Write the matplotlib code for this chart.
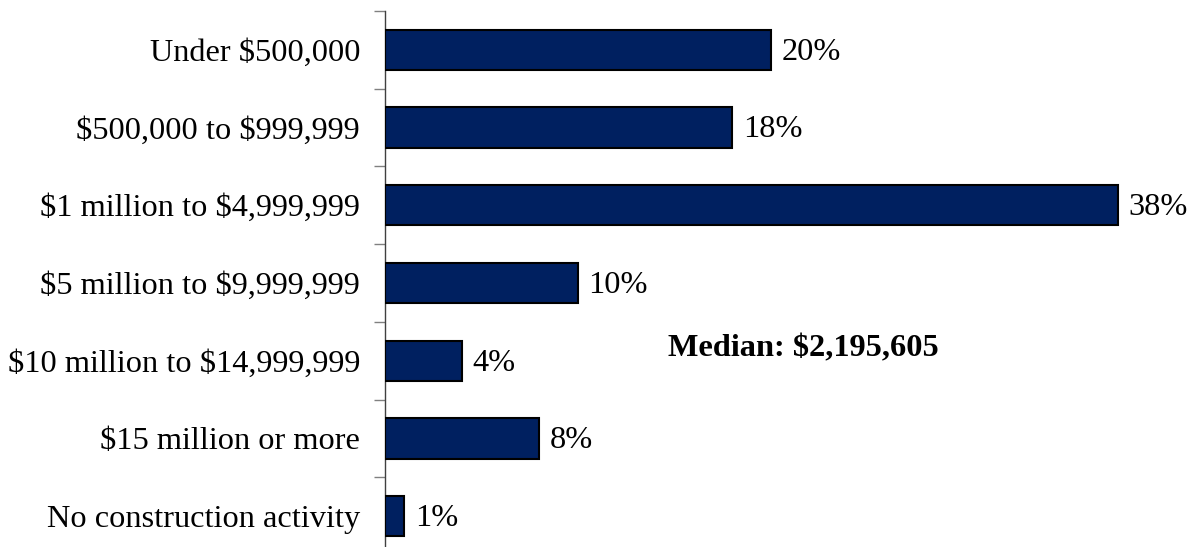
import matplotlib.pyplot as plt

categories = [
    "Under $500,000",
    "$500,000 to $999,999",
    "$1 million to $4,999,999",
    "$5 million to $9,999,999",
    "$10 million to $14,999,999",
    "$15 million or more",
    "No construction activity",
]
shares = [20, 18, 38, 10, 4, 8, 1]
median_note = "Median: $2,195,605"

plt.rcParams['font.family'] = ['Liberation Serif', 'DejaVu Serif']
plt.rcParams['text.parse_math'] = False

fig = plt.figure(figsize=(12, 5.47), dpi=100)
W, H = 1200, 547
x0, x1 = 385, 1200
y_top, y_bot = 11, 555
ax = fig.add_axes([x0 / W, 1 - y_bot / H, (x1 - x0) / W, (y_bot - y_top) / H])

fs = 23.3
n = len(categories)
pos = list(range(n))
ax.barh(pos, shares, height=0.52, color='#002060', edgecolor='black', linewidth=1.5, zorder=3)
for p, v in zip(pos, shares):
    ax.text(v + 0.55, p + 0.03, f"{v}%", va='center', ha='left', fontsize=fs)

ax.set_xlim(0, (x1 - x0) / 19.29)
ax.set_ylim(n - 0.5, -0.5)

# category labels as minor ticks, tick marks on the boundaries
ax.set_yticks([p + 0.5 for p in pos[:-1]] + [-0.5])
ax.set_yticklabels([])
ax.set_yticks(pos, minor=True)
ax.set_yticklabels(categories, minor=True, fontsize=fs)
ax.tick_params(axis='y', which='minor', length=0, pad=18)
ax.tick_params(axis='y', which='major', length=8, color='#808080', width=1)

ax.set_xticks([])
for s in ['top', 'right', 'bottom']:
    ax.spines[s].set_visible(False)
ax.spines['left'].set_color('#404040')
ax.spines['left'].set_linewidth(1)

ax.text(668 / W, 1 - 349 / H, median_note, transform=fig.transFigure, fontsize=fs,
        fontweight='bold', va='center', ha='left')

fig.savefig('out.png', dpi=100)
